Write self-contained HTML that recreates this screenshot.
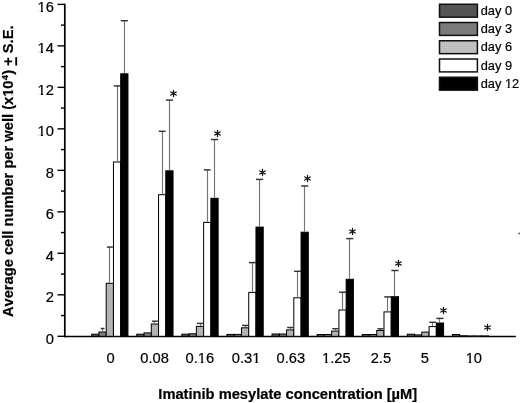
<!DOCTYPE html>
<html><head><meta charset="utf-8"><title>Imatinib mesylate: average cell number per well</title><style>
html,body{margin:0;padding:0;background:#fff;overflow:hidden;}
svg{display:block;}
svg{filter:grayscale(1);}
text{font-family:"Liberation Sans",sans-serif;font-kerning:none;fill:#000;stroke:#000;stroke-width:0.2px;}
.b{font-weight:bold;}
</style></head><body>
<svg width="520" height="403" viewBox="0 0 520 403">
<defs>
<pattern id="stip2" width="2" height="2" patternUnits="userSpaceOnUse">
<rect width="2" height="2" fill="#c2c2c2"/><rect width="1" height="1" fill="#b4b4b4"/>
</pattern>
<pattern id="stip" width="2" height="2" patternUnits="userSpaceOnUse">
<rect width="2" height="2" fill="#b8b8b8"/><rect width="1" height="1" fill="#a4a4a4"/>
</pattern>
</defs>
<rect width="520" height="403" fill="#fff"/>

<!-- axes -->
<line x1="64.8" y1="3.8" x2="64.8" y2="337.2" stroke="#000" stroke-width="1.7"/>
<line x1="64.0" y1="336.45" x2="515.8" y2="336.45" stroke="#000" stroke-width="1.6"/>
<line x1="57.5" y1="336.30" x2="64.8" y2="336.30" stroke="#000" stroke-width="1.4"/>
<g transform="translate(53.90,343.60) scale(1,1.04)"><text font-size="14.7" text-anchor="end">0</text></g>
<line x1="61.0" y1="315.56" x2="64.8" y2="315.56" stroke="#000" stroke-width="1.4"/>
<line x1="57.5" y1="294.81" x2="64.8" y2="294.81" stroke="#000" stroke-width="1.4"/>
<g transform="translate(53.90,302.11) scale(1,1.04)"><text font-size="14.7" text-anchor="end">2</text></g>
<line x1="61.0" y1="274.06" x2="64.8" y2="274.06" stroke="#000" stroke-width="1.4"/>
<line x1="57.5" y1="253.32" x2="64.8" y2="253.32" stroke="#000" stroke-width="1.4"/>
<g transform="translate(53.90,260.62) scale(1,1.04)"><text font-size="14.7" text-anchor="end">4</text></g>
<line x1="61.0" y1="232.57" x2="64.8" y2="232.57" stroke="#000" stroke-width="1.4"/>
<line x1="57.5" y1="211.83" x2="64.8" y2="211.83" stroke="#000" stroke-width="1.4"/>
<g transform="translate(53.90,219.13) scale(1,1.04)"><text font-size="14.7" text-anchor="end">6</text></g>
<line x1="61.0" y1="191.09" x2="64.8" y2="191.09" stroke="#000" stroke-width="1.4"/>
<line x1="57.5" y1="170.34" x2="64.8" y2="170.34" stroke="#000" stroke-width="1.4"/>
<g transform="translate(53.90,177.64) scale(1,1.04)"><text font-size="14.7" text-anchor="end">8</text></g>
<line x1="61.0" y1="149.59" x2="64.8" y2="149.59" stroke="#000" stroke-width="1.4"/>
<line x1="57.5" y1="128.85" x2="64.8" y2="128.85" stroke="#000" stroke-width="1.4"/>
<g transform="translate(53.90,136.15) scale(1,1.04)"><text font-size="14.7" text-anchor="end">10</text><rect x="-15.49" y="-1.69" width="2.38" height="2.04" fill="#fff"/><rect x="-10.90" y="-1.69" width="2.30" height="2.04" fill="#fff"/></g>
<line x1="61.0" y1="108.10" x2="64.8" y2="108.10" stroke="#000" stroke-width="1.4"/>
<line x1="57.5" y1="87.36" x2="64.8" y2="87.36" stroke="#000" stroke-width="1.4"/>
<g transform="translate(53.90,94.66) scale(1,1.04)"><text font-size="14.7" text-anchor="end">12</text><rect x="-15.49" y="-1.69" width="2.38" height="2.04" fill="#fff"/><rect x="-10.90" y="-1.69" width="2.30" height="2.04" fill="#fff"/></g>
<line x1="61.0" y1="66.62" x2="64.8" y2="66.62" stroke="#000" stroke-width="1.4"/>
<line x1="57.5" y1="45.87" x2="64.8" y2="45.87" stroke="#000" stroke-width="1.4"/>
<g transform="translate(53.90,53.17) scale(1,1.04)"><text font-size="14.7" text-anchor="end">14</text><rect x="-15.49" y="-1.69" width="2.38" height="2.04" fill="#fff"/><rect x="-10.90" y="-1.69" width="2.30" height="2.04" fill="#fff"/></g>
<line x1="61.0" y1="25.12" x2="64.8" y2="25.12" stroke="#000" stroke-width="1.4"/>
<line x1="57.5" y1="4.38" x2="64.8" y2="4.38" stroke="#000" stroke-width="1.4"/>
<g transform="translate(53.90,11.68) scale(1,1.04)"><text font-size="14.7" text-anchor="end">16</text><rect x="-15.49" y="-1.69" width="2.38" height="2.04" fill="#fff"/><rect x="-10.90" y="-1.69" width="2.30" height="2.04" fill="#fff"/></g>
<!-- bars -->
<rect x="91.70" y="334.20" width="7.25" height="2.10" fill="#5a5a5a" stroke="#000" stroke-width="1"/>
<rect x="98.95" y="332.00" width="7.25" height="4.30" fill="#808080" stroke="#000" stroke-width="1"/>
<line x1="102.50" y1="328.50" x2="102.50" y2="331.50" stroke="#747474" stroke-width="1.15"/>
<line x1="100.67" y1="328.50" x2="104.48" y2="328.50" stroke="#333" stroke-width="1.45"/>
<rect x="106.20" y="283.30" width="7.25" height="53.00" fill="url(#stip)" stroke="#000" stroke-width="1"/>
<line x1="109.50" y1="247.10" x2="109.50" y2="282.80" stroke="#747474" stroke-width="1.15"/>
<line x1="106.83" y1="247.10" x2="112.83" y2="247.10" stroke="#333" stroke-width="1.45"/>
<rect x="113.45" y="162.00" width="7.25" height="174.30" fill="#ffffff" stroke="#000" stroke-width="1"/>
<line x1="117.50" y1="85.90" x2="117.50" y2="161.50" stroke="#747474" stroke-width="1.15"/>
<line x1="113.67" y1="85.90" x2="120.48" y2="85.90" stroke="#333" stroke-width="1.45"/>
<rect x="120.70" y="73.80" width="7.25" height="262.50" fill="#000000" stroke="#000" stroke-width="1"/>
<line x1="124.50" y1="20.70" x2="124.50" y2="73.30" stroke="#747474" stroke-width="1.15"/>
<line x1="120.73" y1="20.70" x2="127.92" y2="20.70" stroke="#333" stroke-width="1.45"/>
<g transform="translate(110.55,362.60) scale(1,1.04)"><text font-size="14.7" text-anchor="middle">0</text></g>
<rect x="136.79" y="334.20" width="7.25" height="2.10" fill="#5a5a5a" stroke="#000" stroke-width="1"/>
<rect x="144.04" y="332.90" width="7.25" height="3.40" fill="#808080" stroke="#000" stroke-width="1"/>
<rect x="151.29" y="324.00" width="7.25" height="12.30" fill="url(#stip)" stroke="#000" stroke-width="1"/>
<line x1="154.50" y1="321.20" x2="154.50" y2="323.50" stroke="#747474" stroke-width="1.15"/>
<line x1="151.92" y1="321.20" x2="157.92" y2="321.20" stroke="#333" stroke-width="1.45"/>
<rect x="158.54" y="194.70" width="7.25" height="141.60" fill="#ffffff" stroke="#000" stroke-width="1"/>
<line x1="162.50" y1="131.30" x2="162.50" y2="194.20" stroke="#747474" stroke-width="1.15"/>
<line x1="158.77" y1="131.30" x2="165.57" y2="131.30" stroke="#333" stroke-width="1.45"/>
<rect x="165.79" y="170.80" width="7.25" height="165.50" fill="#000000" stroke="#000" stroke-width="1"/>
<line x1="169.50" y1="100.10" x2="169.50" y2="170.30" stroke="#747474" stroke-width="1.15"/>
<line x1="165.82" y1="100.10" x2="173.02" y2="100.10" stroke="#333" stroke-width="1.45"/>
<g transform="translate(154.65,362.60) scale(1,1.04)"><text font-size="14.7" text-anchor="middle">0.08</text></g>
<rect x="181.88" y="334.20" width="7.25" height="2.10" fill="#5a5a5a" stroke="#000" stroke-width="1"/>
<rect x="189.13" y="333.80" width="7.25" height="2.50" fill="#808080" stroke="#000" stroke-width="1"/>
<rect x="196.38" y="326.40" width="7.25" height="9.90" fill="url(#stip)" stroke="#000" stroke-width="1"/>
<line x1="200.50" y1="323.40" x2="200.50" y2="325.90" stroke="#747474" stroke-width="1.15"/>
<line x1="197.00" y1="323.40" x2="203.00" y2="323.40" stroke="#333" stroke-width="1.45"/>
<rect x="203.63" y="222.40" width="7.25" height="113.90" fill="#ffffff" stroke="#000" stroke-width="1"/>
<line x1="207.50" y1="169.90" x2="207.50" y2="221.90" stroke="#747474" stroke-width="1.15"/>
<line x1="203.85" y1="169.90" x2="210.66" y2="169.90" stroke="#333" stroke-width="1.45"/>
<rect x="210.88" y="198.30" width="7.25" height="138.00" fill="#000000" stroke="#000" stroke-width="1"/>
<line x1="214.50" y1="139.50" x2="214.50" y2="197.80" stroke="#747474" stroke-width="1.15"/>
<line x1="210.91" y1="139.50" x2="218.10" y2="139.50" stroke="#333" stroke-width="1.45"/>
<g transform="translate(199.90,362.60) scale(1,1.04)"><text font-size="14.7" text-anchor="middle">0.16</text><rect x="-1.18" y="-1.69" width="2.38" height="2.04" fill="#fff"/><rect x="3.41" y="-1.69" width="2.30" height="2.04" fill="#fff"/></g>
<rect x="226.97" y="334.40" width="7.25" height="1.90" fill="#5a5a5a" stroke="#000" stroke-width="1"/>
<rect x="234.22" y="334.40" width="7.25" height="1.90" fill="#808080" stroke="#000" stroke-width="1"/>
<rect x="241.47" y="327.80" width="7.25" height="8.50" fill="url(#stip)" stroke="#000" stroke-width="1"/>
<line x1="245.50" y1="325.40" x2="245.50" y2="327.30" stroke="#747474" stroke-width="1.15"/>
<line x1="242.10" y1="325.40" x2="248.10" y2="325.40" stroke="#333" stroke-width="1.45"/>
<rect x="248.72" y="292.40" width="7.25" height="43.90" fill="#ffffff" stroke="#000" stroke-width="1"/>
<line x1="252.50" y1="262.60" x2="252.50" y2="291.90" stroke="#747474" stroke-width="1.15"/>
<line x1="248.95" y1="262.60" x2="255.75" y2="262.60" stroke="#333" stroke-width="1.45"/>
<rect x="255.97" y="227.10" width="7.25" height="109.20" fill="#000000" stroke="#000" stroke-width="1"/>
<line x1="259.50" y1="179.40" x2="259.50" y2="226.60" stroke="#747474" stroke-width="1.15"/>
<line x1="256.00" y1="179.40" x2="263.20" y2="179.40" stroke="#333" stroke-width="1.45"/>
<g transform="translate(246.10,362.60) scale(1,1.04)"><text font-size="14.7" text-anchor="middle">0.31</text><rect x="6.99" y="-1.69" width="2.38" height="2.04" fill="#fff"/><rect x="11.58" y="-1.69" width="2.30" height="2.04" fill="#fff"/></g>
<rect x="272.06" y="334.00" width="7.25" height="2.30" fill="#5a5a5a" stroke="#000" stroke-width="1"/>
<rect x="279.31" y="334.00" width="7.25" height="2.30" fill="#808080" stroke="#000" stroke-width="1"/>
<rect x="286.56" y="329.90" width="7.25" height="6.40" fill="url(#stip)" stroke="#000" stroke-width="1"/>
<line x1="290.50" y1="327.50" x2="290.50" y2="329.40" stroke="#747474" stroke-width="1.15"/>
<line x1="287.19" y1="327.50" x2="293.19" y2="327.50" stroke="#333" stroke-width="1.45"/>
<rect x="293.81" y="297.80" width="7.25" height="38.50" fill="#ffffff" stroke="#000" stroke-width="1"/>
<line x1="297.50" y1="271.30" x2="297.50" y2="297.30" stroke="#747474" stroke-width="1.15"/>
<line x1="294.04" y1="271.30" x2="300.83" y2="271.30" stroke="#333" stroke-width="1.45"/>
<rect x="301.06" y="232.20" width="7.25" height="104.10" fill="#000000" stroke="#000" stroke-width="1"/>
<line x1="304.50" y1="186.00" x2="304.50" y2="231.70" stroke="#747474" stroke-width="1.15"/>
<line x1="301.08" y1="186.00" x2="308.29" y2="186.00" stroke="#333" stroke-width="1.45"/>
<g transform="translate(290.80,362.60) scale(1,1.04)"><text font-size="14.7" text-anchor="middle">0.63</text></g>
<rect x="317.15" y="334.50" width="7.25" height="1.80" fill="#5a5a5a" stroke="#000" stroke-width="1"/>
<rect x="324.40" y="334.50" width="7.25" height="1.80" fill="#808080" stroke="#000" stroke-width="1"/>
<rect x="331.65" y="331.10" width="7.25" height="5.20" fill="url(#stip)" stroke="#000" stroke-width="1"/>
<line x1="335.50" y1="328.70" x2="335.50" y2="330.60" stroke="#747474" stroke-width="1.15"/>
<line x1="332.28" y1="328.70" x2="338.28" y2="328.70" stroke="#333" stroke-width="1.45"/>
<rect x="338.90" y="310.00" width="7.25" height="26.30" fill="#ffffff" stroke="#000" stroke-width="1"/>
<line x1="342.50" y1="292.20" x2="342.50" y2="309.50" stroke="#747474" stroke-width="1.15"/>
<line x1="339.13" y1="292.20" x2="345.93" y2="292.20" stroke="#333" stroke-width="1.45"/>
<rect x="346.15" y="279.30" width="7.25" height="57.00" fill="#000000" stroke="#000" stroke-width="1"/>
<line x1="349.50" y1="238.60" x2="349.50" y2="278.80" stroke="#747474" stroke-width="1.15"/>
<line x1="346.18" y1="238.60" x2="353.38" y2="238.60" stroke="#333" stroke-width="1.45"/>
<g transform="translate(336.30,362.60) scale(1,1.04)"><text font-size="14.7" text-anchor="middle">1.25</text><rect x="-13.44" y="-1.69" width="2.38" height="2.04" fill="#fff"/><rect x="-8.85" y="-1.69" width="2.30" height="2.04" fill="#fff"/></g>
<rect x="362.24" y="334.50" width="7.25" height="1.80" fill="#5a5a5a" stroke="#000" stroke-width="1"/>
<rect x="369.49" y="334.50" width="7.25" height="1.80" fill="#808080" stroke="#000" stroke-width="1"/>
<rect x="376.74" y="330.50" width="7.25" height="5.80" fill="url(#stip)" stroke="#000" stroke-width="1"/>
<line x1="380.50" y1="328.80" x2="380.50" y2="330.00" stroke="#747474" stroke-width="1.15"/>
<line x1="377.37" y1="328.80" x2="383.37" y2="328.80" stroke="#333" stroke-width="1.45"/>
<rect x="383.99" y="311.90" width="7.25" height="24.40" fill="#ffffff" stroke="#000" stroke-width="1"/>
<line x1="387.50" y1="296.90" x2="387.50" y2="311.40" stroke="#747474" stroke-width="1.15"/>
<line x1="384.22" y1="296.90" x2="391.01" y2="296.90" stroke="#333" stroke-width="1.45"/>
<rect x="391.24" y="296.70" width="7.25" height="39.60" fill="#000000" stroke="#000" stroke-width="1"/>
<line x1="394.50" y1="270.50" x2="394.50" y2="296.20" stroke="#747474" stroke-width="1.15"/>
<line x1="391.26" y1="270.50" x2="398.47" y2="270.50" stroke="#333" stroke-width="1.45"/>
<g transform="translate(380.90,362.60) scale(1,1.04)"><text font-size="14.7" text-anchor="middle">2.5</text></g>
<rect x="407.33" y="334.20" width="7.25" height="2.10" fill="#5a5a5a" stroke="#000" stroke-width="1"/>
<rect x="414.58" y="334.90" width="7.25" height="1.40" fill="#808080" stroke="#000" stroke-width="1"/>
<rect x="421.83" y="332.10" width="7.25" height="4.20" fill="url(#stip)" stroke="#000" stroke-width="1"/>
<rect x="429.08" y="326.60" width="7.25" height="9.70" fill="#ffffff" stroke="#000" stroke-width="1"/>
<line x1="432.50" y1="322.30" x2="432.50" y2="326.10" stroke="#747474" stroke-width="1.15"/>
<line x1="429.31" y1="322.30" x2="436.10" y2="322.30" stroke="#333" stroke-width="1.45"/>
<rect x="436.33" y="323.00" width="7.25" height="13.30" fill="#000000" stroke="#000" stroke-width="1"/>
<line x1="439.50" y1="318.40" x2="439.50" y2="322.50" stroke="#747474" stroke-width="1.15"/>
<line x1="436.35" y1="318.40" x2="443.56" y2="318.40" stroke="#333" stroke-width="1.45"/>
<g transform="translate(424.90,362.60) scale(1,1.04)"><text font-size="14.7" text-anchor="middle">5</text></g>
<rect x="452.42" y="334.50" width="7.25" height="1.80" fill="#5a5a5a" stroke="#000" stroke-width="1"/>
<rect x="459.67" y="335.80" width="7.25" height="0.50" fill="#808080" stroke="#000" stroke-width="1"/>
<rect x="466.92" y="336.00" width="7.25" height="0.30" fill="url(#stip)" stroke="#000" stroke-width="1"/>
<rect x="474.17" y="336.00" width="7.25" height="0.30" fill="#ffffff" stroke="#000" stroke-width="1"/>
<rect x="481.42" y="336.00" width="7.25" height="0.30" fill="#000000" stroke="#000" stroke-width="1"/>
<g transform="translate(473.80,362.60) scale(1,1.04)"><text font-size="14.7" text-anchor="middle">10</text><rect x="-7.31" y="-1.69" width="2.38" height="2.04" fill="#fff"/><rect x="-2.72" y="-1.69" width="2.30" height="2.04" fill="#fff"/></g>
<!-- significance asterisks -->
<path d="M173.50 90.40V96.60M170.82 91.95L176.18 95.05M170.82 95.05L176.18 91.95M217.50 130.40V136.60M214.82 131.95L220.18 135.05M214.82 135.05L220.18 131.95M262.50 169.40V175.60M259.82 170.95L265.18 174.05M259.82 174.05L265.18 170.95M307.50 175.40V181.60M304.82 176.95L310.18 180.05M304.82 180.05L310.18 176.95M352.50 228.40V234.60M349.82 229.95L355.18 233.05M349.82 233.05L355.18 229.95M398.50 260.40V266.60M395.82 261.95L401.18 265.05M395.82 265.05L401.18 261.95M443.50 307.40V313.60M440.82 308.95L446.18 312.05M440.82 312.05L446.18 308.95M487.50 324.40V330.60M484.82 325.95L490.18 329.05M484.82 329.05L490.18 325.95" stroke="#111" stroke-width="1.3" stroke-linecap="round" fill="none"/>
<!-- legend -->
<rect x="439.5" y="4.25" width="37.9" height="12.9" fill="#555" stroke="#111" stroke-width="1.5"/>
<g transform="translate(480.70,14.70) scale(1,1.0)"><text font-size="12.8" text-anchor="start">day 0</text></g>
<rect x="439.5" y="22.50" width="37.9" height="12.9" fill="#7a7a7a" stroke="#111" stroke-width="1.5"/>
<g transform="translate(480.70,33.00) scale(1,1.0)"><text font-size="12.8" text-anchor="start">day 3</text></g>
<rect x="439.5" y="40.75" width="37.9" height="12.9" fill="url(#stip2)" stroke="#111" stroke-width="1.5"/>
<g transform="translate(480.70,51.30) scale(1,1.0)"><text font-size="12.8" text-anchor="start">day 6</text></g>
<rect x="439.5" y="59.00" width="37.9" height="12.9" fill="#fff" stroke="#111" stroke-width="1.5"/>
<g transform="translate(480.70,69.60) scale(1,1.0)"><text font-size="12.8" text-anchor="start">day 9</text></g>
<rect x="439.5" y="77.25" width="37.9" height="12.9" fill="#000" stroke="#111" stroke-width="1.5"/>
<g transform="translate(480.70,87.90) scale(1,1.0)"><text font-size="12.8" text-anchor="start">day 12</text><rect x="24.94" y="-1.50" width="2.08" height="1.85" fill="#fff"/><rect x="28.94" y="-1.50" width="2.00" height="1.85" fill="#fff"/></g>
<!-- axis titles -->
<g transform="translate(158.30,398.60) scale(1,1.02)"><text font-size="14.7" text-anchor="start" class="b">Imatinib mesylate concentration [µM]</text></g>
<g transform="translate(13.3,317.1) rotate(-90)"><g transform="scale(1,1.02)"><text class="b" font-size="14.7">Average cell number per well (x10<tspan font-size="9.5" dy="-5" dx="0.2">4</tspan><tspan dy="5" dx="0.2">) + S.E.</tspan></text><rect x="221.30" y="-1.97" width="2.19" height="2.32" fill="#fff"/><rect x="226.58" y="-1.97" width="1.97" height="2.32" fill="#fff"/></g><rect x="251.60" y="2.0" width="8.38" height="1.8" fill="#000"/></g>
<ellipse cx="519.4" cy="233.5" rx="1.3" ry="0.9" fill="#666"/>
</svg></body></html>
